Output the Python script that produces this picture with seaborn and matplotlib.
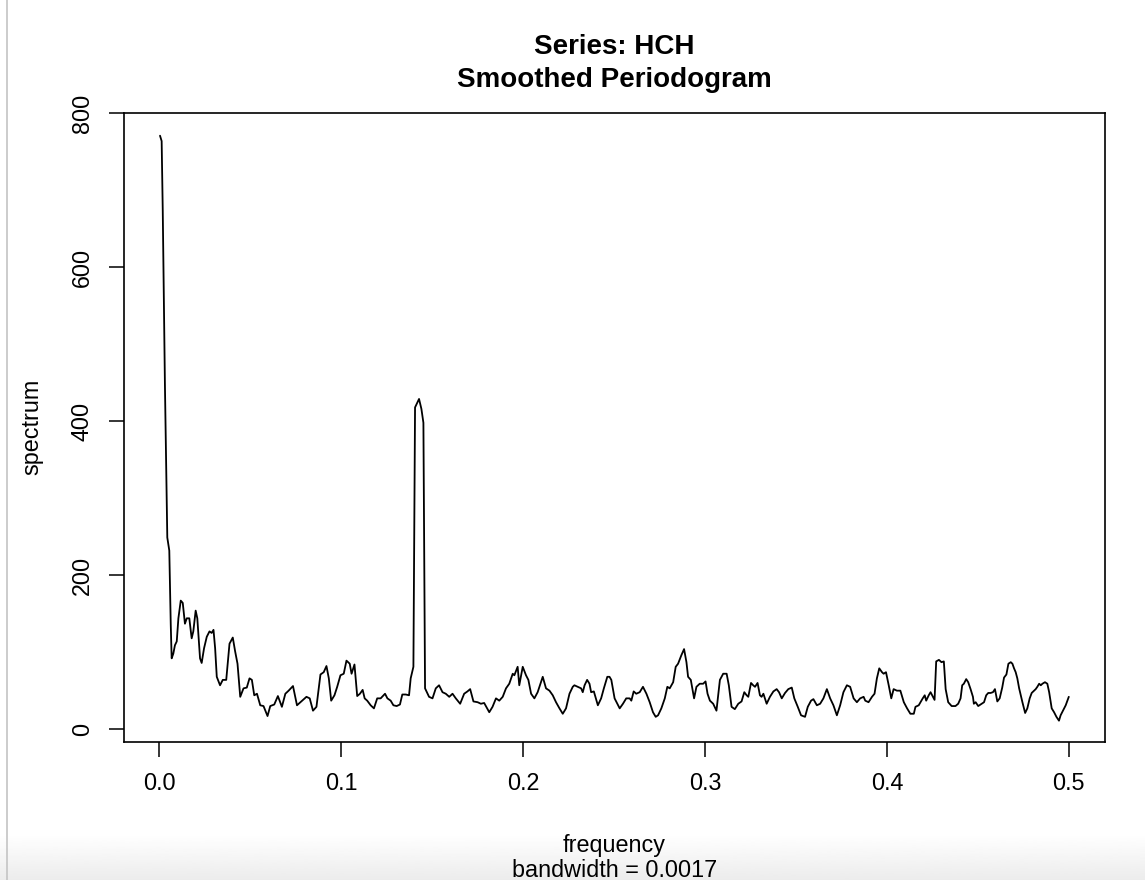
import numpy as np
import pandas as pd
import matplotlib
matplotlib.use("Agg")
import matplotlib.pyplot as plt
from matplotlib.lines import Line2D
import seaborn as sns

frequency = [
    0.0004, 0.0013, 0.0019, 0.0031, 0.0044, 0.0055, 0.0063, 0.0068, 0.0077, 0.0086,
    0.0096, 0.0105, 0.0118, 0.0129, 0.0141, 0.0151, 0.0165, 0.0178, 0.0187, 0.0200,
    0.0209, 0.0224, 0.0233, 0.0246, 0.0261, 0.0276, 0.0288, 0.0298, 0.0307, 0.0316,
    0.0334, 0.0349, 0.0368, 0.0386, 0.0404, 0.0417, 0.0430, 0.0445, 0.0463, 0.0481,
    0.0496, 0.0509, 0.0522, 0.0537, 0.0555, 0.0573, 0.0595, 0.0610, 0.0632, 0.0652,
    0.0674, 0.0693, 0.0711, 0.0735, 0.0757, 0.0785, 0.0809, 0.0827, 0.0845, 0.0864,
    0.0886, 0.0904, 0.0919, 0.0932, 0.0945, 0.0963, 0.0978, 0.0996, 0.1014, 0.1029,
    0.1047, 0.1057, 0.1073, 0.1088, 0.1103, 0.1118, 0.1129, 0.1143, 0.1162, 0.1180,
    0.1198, 0.1217, 0.1241, 0.1254, 0.1272, 0.1287, 0.1305, 0.1323, 0.1336, 0.1355,
    0.1373, 0.1382, 0.1397, 0.1406, 0.1428, 0.1441, 0.1452, 0.1461, 0.1483, 0.1502,
    0.1520, 0.1538, 0.1557, 0.1575, 0.1594, 0.1612, 0.1630, 0.1654, 0.1676, 0.1694,
    0.1709, 0.1727, 0.1750, 0.1768, 0.1786, 0.1814, 0.1832, 0.1851, 0.1869, 0.1888,
    0.1906, 0.1924, 0.1943, 0.1952, 0.1970, 0.1979, 0.1998, 0.2016, 0.2029, 0.2044,
    0.2062, 0.2080, 0.2108, 0.2126, 0.2145, 0.2163, 0.2181, 0.2200, 0.2218, 0.2236,
    0.2255, 0.2273, 0.2282, 0.2301, 0.2319, 0.2328, 0.2338, 0.2352, 0.2365, 0.2374,
    0.2389, 0.2411, 0.2429, 0.2444, 0.2463, 0.2475, 0.2485, 0.2503, 0.2531, 0.2549,
    0.2567, 0.2586, 0.2595, 0.2608, 0.2622, 0.2641, 0.2659, 0.2678, 0.2696, 0.2714,
    0.2729, 0.2742, 0.2760, 0.2779, 0.2793, 0.2806, 0.2825, 0.2839, 0.2852, 0.2870,
    0.2885, 0.2898, 0.2907, 0.2922, 0.2940, 0.2953, 0.2971, 0.2990, 0.3003, 0.3014,
    0.3027, 0.3045, 0.3063, 0.3082, 0.3100, 0.3119, 0.3131, 0.3146, 0.3164, 0.3183,
    0.3201, 0.3216, 0.3229, 0.3238, 0.3253, 0.3265, 0.3275, 0.3289, 0.3302, 0.3311,
    0.3321, 0.3339, 0.3357, 0.3376, 0.3394, 0.3407, 0.3422, 0.3440, 0.3458, 0.3477,
    0.3491, 0.3510, 0.3528, 0.3550, 0.3565, 0.3583, 0.3596, 0.3615, 0.3633, 0.3651,
    0.3670, 0.3688, 0.3706, 0.3725, 0.3743, 0.3761, 0.3780, 0.3798, 0.3817, 0.3835,
    0.3853, 0.3872, 0.3881, 0.3899, 0.3918, 0.3932, 0.3945, 0.3958, 0.3973, 0.3982,
    0.3995, 0.4010, 0.4024, 0.4037, 0.4055, 0.4074, 0.4093, 0.4111, 0.4129, 0.4148,
    0.4157, 0.4175, 0.4197, 0.4208, 0.4216, 0.4230, 0.4240, 0.4253, 0.4262, 0.4271,
    0.4286, 0.4300, 0.4313, 0.4323, 0.4337, 0.4356, 0.4377, 0.4392, 0.4405, 0.4414,
    0.4423, 0.4436, 0.4447, 0.4460, 0.4473, 0.4478, 0.4488, 0.4502, 0.4521, 0.4534,
    0.4546, 0.4557, 0.4570, 0.4583, 0.4594, 0.4607, 0.4620, 0.4634, 0.4644, 0.4657,
    0.4668, 0.4681, 0.4690, 0.4699, 0.4708, 0.4717, 0.4727, 0.4745, 0.4760, 0.4772,
    0.4785, 0.4796, 0.4809, 0.4818, 0.4827, 0.4837, 0.4846, 0.4855, 0.4869, 0.4882,
    0.4892, 0.4906, 0.4919, 0.4932, 0.4946, 0.4955, 0.4968, 0.4983, 0.4992, 0.5000,
]

spectrum = [
    771, 764, 674, 447, 249, 232, 136, 92, 98, 109,
    114, 144, 167, 164, 137, 144, 144, 118, 127, 154,
    144, 92, 86, 105, 120, 127, 125, 129, 105, 68,
    57, 64, 64, 111, 119, 101, 85, 42, 53, 54,
    66, 64, 44, 46, 31, 30, 17, 30, 32, 43,
    29, 46, 50, 56, 31, 37, 42, 40, 24, 29,
    71, 74, 82, 66, 37, 44, 55, 70, 72, 89,
    85, 72, 84, 43, 46, 51, 40, 37, 31, 27,
    40, 40, 46, 40, 37, 31, 30, 32, 45, 45,
    44, 66, 81, 418, 429, 416, 398, 53, 42, 40,
    53, 57, 48, 46, 42, 46, 40, 33, 46, 49,
    52, 36, 35, 33, 34, 22, 29, 40, 37, 42,
    53, 59, 72, 70, 81, 57, 81, 70, 64, 46,
    40, 48, 68, 53, 50, 44, 35, 27, 20, 27,
    46, 55, 57, 55, 53, 48, 57, 64, 59, 48,
    49, 31, 40, 53, 68, 68, 64, 40, 27, 33,
    40, 40, 37, 49, 46, 48, 55, 46, 35, 22,
    16, 18, 27, 40, 55, 53, 61, 81, 85, 96,
    104, 87, 68, 64, 40, 55, 59, 59, 62, 46,
    37, 33, 24, 64, 72, 72, 57, 29, 26, 33,
    36, 48, 44, 42, 60, 57, 55, 60, 44, 42,
    46, 33, 42, 49, 52, 48, 40, 47, 52, 54,
    40, 29, 18, 16, 29, 37, 39, 31, 33, 40,
    52, 40, 31, 18, 31, 48, 57, 55, 40, 35,
    40, 42, 37, 35, 42, 46, 66, 79, 74, 72,
    74, 57, 40, 52, 50, 50, 35, 27, 20, 20,
    29, 31, 40, 44, 37, 44, 48, 42, 38, 88,
    90, 87, 88, 52, 35, 30, 30, 33, 40, 57,
    59, 65, 61, 52, 42, 33, 35, 30, 33, 35,
    44, 47, 47, 48, 52, 36, 40, 54, 67, 71,
    85, 87, 85, 79, 74, 66, 53, 35, 21, 27,
    40, 47, 50, 52, 55, 59, 57, 59, 61, 59,
    48, 27, 22, 16, 11, 18, 24, 31, 37, 42,
]

x_ticks = [0.0, 0.1, 0.2, 0.3, 0.4, 0.5]
x_tick_labels = ["0.0", "0.1", "0.2", "0.3", "0.4", "0.5"]
y_ticks = [0, 200, 400, 600, 800]
y_tick_labels = ["0", "200", "400", "600", "800"]

title_lines = ["Series: HCH", "Smoothed Periodogram"]
x_label = "frequency"
sub_label = "bandwidth = 0.0017"
y_label = "spectrum"

df = pd.DataFrame({"frequency": frequency, "spectrum": spectrum})

sns.set_style("ticks")
plt.rcParams["font.family"] = ["Liberation Sans", "DejaVu Sans"]
plt.rcParams["text.color"] = "black"
plt.rcParams["axes.labelcolor"] = "black"
plt.rcParams["xtick.color"] = "black"
plt.rcParams["ytick.color"] = "black"

W, H = 1145, 880
fig = plt.figure(figsize=(W / 100, H / 100), dpi=100)
fig.patch.set_facecolor("white")

# faint screenshot artefacts: bottom gradient and left edge line
gax = fig.add_axes([0, 0, 1, 45 / H], zorder=-5)
grad = np.linspace(1.0, 0.925, 64).reshape(-1, 1)
gax.imshow(grad, aspect="auto", cmap="gray", vmin=0, vmax=1, extent=[0, 1, 0, 1])
gax.set_axis_off()
fig.add_artist(Line2D([6.5 / W, 6.5 / W], [0, 1], color="#c4c4c4", lw=1.2))

left, right, top, bottom = 124, 1105, 113, 742
ax = fig.add_axes([left / W, 1 - bottom / H, (right - left) / W, (bottom - top) / H])
ax.set_facecolor("white")

sns.lineplot(data=df, x="frequency", y="spectrum", color="black", lw=1.3,
             ax=ax, sort=False, estimator=None)

ax.set_xlim(-0.0194, 0.5199)
ax.set_ylim(-16.7, 800.5)
ax.set_xticks(x_ticks)
ax.set_xticklabels(x_tick_labels)
ax.set_yticks(y_ticks)
ax.set_yticklabels(y_tick_labels, rotation=90, va="center")
ax.tick_params(axis="both", direction="out", length=10.8, width=1.1,
               color="black", labelsize=16.8, labelcolor="black")
ax.tick_params(axis="x", pad=11)
ax.tick_params(axis="y", pad=11)
for s in ax.spines.values():
    s.set_visible(True)
    s.set_color("black")
    s.set_linewidth(1.2)
ax.set_xlabel("")
ax.set_ylabel("")
ax.grid(False)

cx = (left + right) / 2 / W
fig.text(cx, 1 - 54 / H, title_lines[0], ha="center", va="baseline",
         fontsize=20, fontweight="bold", color="black")
fig.text(cx, 1 - 87 / H, title_lines[1], ha="center", va="baseline",
         fontsize=20, fontweight="bold", color="black")
fig.text(cx, 1 - 852 / H, x_label, ha="center", va="baseline", fontsize=16.8,
         color="black")
fig.text(cx, 1 - 877 / H, sub_label, ha="center", va="baseline", fontsize=16.8,
         color="black")
fig.text(32 / W, 1 - 427 / H, y_label, ha="center", va="center",
         rotation=90, fontsize=16.8, color="black")

fig.savefig("out.png", dpi=100, facecolor="white")
